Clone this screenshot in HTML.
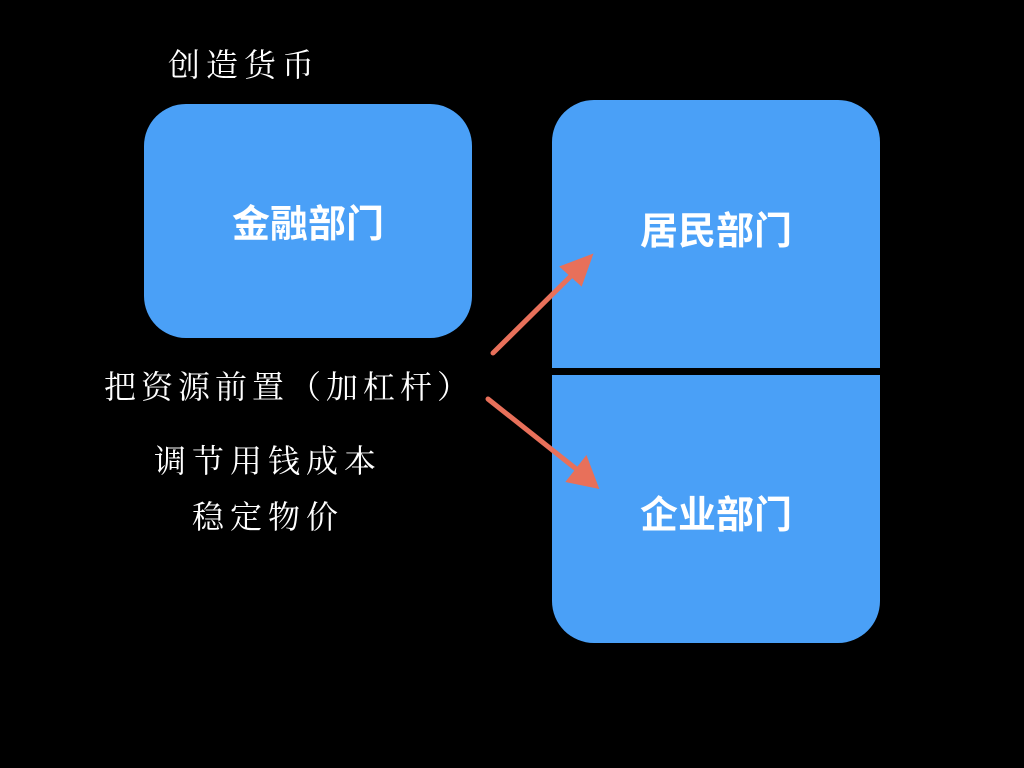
<!DOCTYPE html>
<html><head><meta charset="utf-8"><style>
body{margin:0;width:1024px;height:768px;background:#000;position:relative;overflow:hidden;font-family:"Liberation Sans","Noto Sans CJK SC",sans-serif}
.b{position:absolute;background:#4aa0f7;color:#fff;font-weight:bold;font-size:38px;display:flex;justify-content:center;box-sizing:border-box}
.t{position:absolute;color:#fff;font-family:"Liberation Serif","Noto Serif CJK SC",serif;font-size:32px;white-space:nowrap;letter-spacing:6px}
</style></head><body>
<div class="b" style="left:144px;top:104px;width:328px;height:234px;border-radius:42px;padding-top:89px">金融部门</div>
<div class="b" style="left:552px;top:100px;width:328px;height:268px;border-radius:42px 42px 0 0;padding-top:100px">居民部门</div>
<div class="b" style="left:552px;top:375px;width:328px;height:268px;border-radius:0 0 42px 42px;padding-top:109px">企业部门</div>
<div class="t" style="left:168px;top:40px">创造货币</div>
<div class="t" style="left:104px;top:362px;letter-spacing:5px">把资源前置（加杠杆）</div>
<div class="t" style="left:154px;top:436px">调节用钱成本</div>
<div class="t" style="left:192px;top:492px">稳定物价</div>
<svg width="1024" height="768" style="position:absolute;left:0;top:0">
<g stroke="#e8705a" stroke-width="5" fill="#e8705a" stroke-linecap="round">
<line x1="493" y1="353" x2="575" y2="272"/>
<polygon points="591,256 562,267 581,284" stroke-width="3"/>
<line x1="488" y1="399" x2="580" y2="472"/>
<polygon points="597,487 586,458 568,481" stroke-width="3"/>
</g></svg>
</body></html>
